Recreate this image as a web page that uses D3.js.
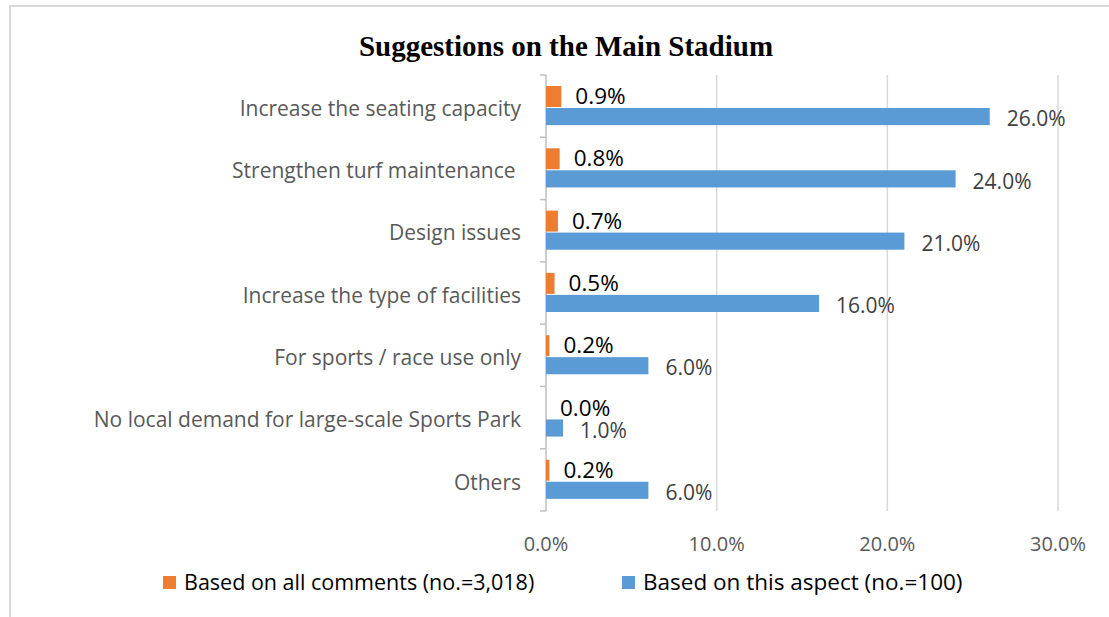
<!DOCTYPE html>
<html><head><meta charset="utf-8">
<script src="https://cdn.jsdelivr.net/npm/d3@7"></script>
<style>
html,body{margin:0;padding:0;background:#fff;}
svg{display:block;}
text{white-space:pre;}
</style></head>
<body>
<svg id="chart" width="1109" height="617"></svg>
<script>
const categories = [
  "Increase the seating capacity",
  "Strengthen turf maintenance ",
  "Design issues",
  "Increase the type of facilities",
  "For sports / race use only",
  "No local demand for large-scale Sports Park",
  "Others"
];
const allComments = [0.009, 0.008, 0.007, 0.005, 0.002, 0.000, 0.002];
const thisAspect  = [0.26, 0.24, 0.21, 0.16, 0.06, 0.01, 0.06];
const xTicks = [0, 0.1, 0.2, 0.3];
const seriesNames = ["Based on all comments (no.=3,018)", "Based on this aspect (no.=100)"];
const colors = ["#ed7d31", "#5b9bd5"];

const svg = d3.select("#chart");
const W = 1109, H = 617;
const FONT = "'Open Sans', 'Noto Sans', sans-serif";

// frame
svg.append("rect").attr("x", 10).attr("y", 6).attr("width", W + 20).attr("height", H + 20)
  .attr("fill", "none").attr("stroke", "#d9d9d9").attr("stroke-width", 2);

// title
svg.append("text").attr("x", 566).attr("y", 56).attr("text-anchor", "middle")
  .attr("font-family", "'Liberation Serif', 'Times New Roman', serif")
  .attr("font-weight", "bold").attr("font-size", 29).attr("fill", "#000")
  .text("Suggestions on the Main Stadium");

const x = d3.scaleLinear().domain([0, 0.3]).range([546, 1058]);
const y = d3.scaleBand().domain(categories).range([75, 511]).padding(0);
const bw = y.bandwidth();
const oTop = bw * 0.177, oH = bw * 0.337;
const bTop = bw * 0.53, bH = bw * 0.275;

// gridlines
svg.append("g").selectAll("line").data(xTicks.filter(d => d > 0)).join("line")
  .attr("x1", d => x(d)).attr("x2", d => x(d)).attr("y1", 75).attr("y2", 511)
  .attr("stroke", "#d9d9d9").attr("stroke-width", 1.5);

// x tick labels
svg.append("g").selectAll("text").data(xTicks).join("text")
  .attr("x", d => x(d)).attr("y", 551).attr("text-anchor", "middle")
  .attr("font-family", FONT).attr("font-size", 20).attr("fill", "#595959")
  .text(d => d3.format(".1%")(d));

// y axis
const yAxis = d3.axisLeft(y).tickSize(0).tickFormat(d => d);
const yg = svg.append("g").attr("transform", "translate(546,0)").call(yAxis);
yg.select(".domain").remove();
yg.selectAll("text").attr("x", -25).attr("dy", "0.46em")
  .attr("font-family", FONT).attr("font-size", 21).attr("fill", "#595959");
// axis line and tick marks at band boundaries
svg.append("line").attr("x1", 546).attr("x2", 546).attr("y1", 75).attr("y2", 511)
  .attr("stroke", "#bfbfbf").attr("stroke-width", 1.5);
const bounds = categories.map(c => y(c)).concat([y(categories[categories.length - 1]) + bw]);
svg.append("g").selectAll("line").data(bounds).join("line")
  .attr("x1", 540).attr("x2", 546).attr("y1", d => d).attr("y2", d => d)
  .attr("stroke", "#bfbfbf").attr("stroke-width", 1.5);

// bars
svg.append("g").selectAll("rect").data(categories).join("rect")
  .attr("x", x(0)).attr("y", d => y(d) + oTop)
  .attr("width", (d, i) => x(allComments[i]) - x(0)).attr("height", oH)
  .attr("fill", colors[0]);
svg.append("g").selectAll("rect").data(categories).join("rect")
  .attr("x", x(0)).attr("y", d => y(d) + bTop)
  .attr("width", (d, i) => x(thisAspect[i]) - x(0)).attr("height", bH)
  .attr("fill", colors[1]);

// labels
svg.append("g").selectAll("text").data(categories).join("text")
  .attr("x", (d, i) => x(allComments[i]) + 14).attr("y", d => y(d) + oTop + oH / 2)
  .attr("dy", "0.34em").attr("font-family", FONT).attr("font-size", 22.5).attr("fill", "#000")
  .text((d, i) => d3.format(".1%")(allComments[i]));
svg.append("g").selectAll("text").data(categories).join("text")
  .attr("x", (d, i) => x(thisAspect[i]) + 17).attr("y", d => y(d) + bTop + bH / 2)
  .attr("dy", "0.46em").attr("font-family", FONT).attr("font-size", 21).attr("fill", "#404040")
  .text((d, i) => d3.format(".1%")(thisAspect[i]));

// legend
const legX = [163, 622];
const legSize = [21.5, 22.5];
seriesNames.forEach((s, i) => {
  svg.append("rect").attr("x", legX[i]).attr("y", 576).attr("width", 13).attr("height", 13).attr("fill", colors[i]);
  svg.append("text").attr("x", legX[i] + 21).attr("y", 590)
    .attr("font-family", FONT).attr("font-size", legSize[i]).attr("fill", "#000").text(s);
});
</script>
</body></html>
